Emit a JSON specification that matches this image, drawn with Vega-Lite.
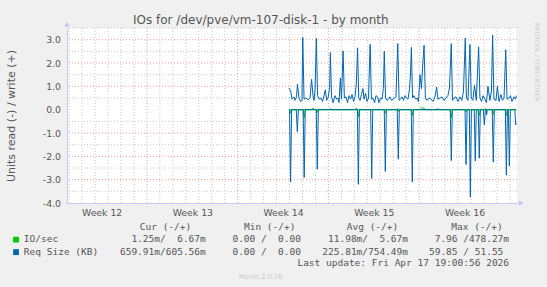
{
  "$schema": "https://vega.github.io/schema/vega-lite/v6.json",
  "width": 450,
  "height": 175,
  "autosize": "none",
  "padding": {"left": 67, "top": 28, "right": 30, "bottom": 84},
  "background": "#f0f0f0",
  "config": {"view": {"fill": "white", "stroke": null}, "font": "DejaVu Sans",
    "axisY": {"ticks": false, "tickSize": 0, "grid": false, "domainColor": "#c8c8f0", "labelColor": "#555555", "labelFont": "DejaVu Sans", "labelFontSize": 9.3, "labelPadding": 6.5, "labelBaseline": "middle", "labelFlush": false, "labelOverlap": false, "titleFont": "DejaVu Sans", "titleFontSize": 11, "titleFontWeight": "normal", "titleColor": "#555555", "titleX": -56, "titleY": 87.5, "titleAngle": -90, "titleAlign": "center", "titleBaseline": "middle"},
    "axisX": {"ticks": false, "tickSize": 0, "grid": false, "domainColor": "#c8c8f0", "labelColor": "#555555", "labelFont": "DejaVu Sans", "labelFontSize": 9.3, "labelPadding": 9, "labelBaseline": "middle", "labelFlush": false, "labelOverlap": false}
  },
  "datasets": {
    "req": [
      {"k":"w","t":17.96,"v":0.93},{"k":"w","t":18.11,"v":0.75},{"k":"w","t":18.19,"v":0.45},{"k":"w","t":18.34,"v":0.55},{"k":"w","t":18.42,"v":0.40},{"k":"w","t":18.54,"v":0.55},{"k":"w","t":18.61,"v":1.1},{"k":"w","t":18.73,"v":0.5},{"k":"w","t":18.85,"v":0.35},{"k":"w","t":18.96,"v":0.4},{"k":"w","t":19.02,"v":3.1},{"k":"w","t":19.12,"v":0.45},{"k":"w","t":19.27,"v":0.5},{"k":"w","t":19.43,"v":0.42},{"k":"w","t":19.58,"v":0.5},{"k":"w","t":19.70,"v":1.3},{"k":"w","t":19.81,"v":0.6},{"k":"w","t":19.89,"v":0.4},{"k":"w","t":19.97,"v":0.9},{"k":"w","t":20.07,"v":3.05},{"k":"w","t":20.16,"v":0.6},{"k":"w","t":20.28,"v":0.45},{"k":"w","t":20.43,"v":0.5},{"k":"w","t":20.55,"v":0.35},{"k":"w","t":20.66,"v":0.6},{"k":"w","t":20.76,"v":0.85},{"k":"w","t":20.86,"v":0.4},{"k":"w","t":20.97,"v":0.5},{"k":"w","t":21.09,"v":0.9},{"k":"w","t":21.15,"v":2.45},{"k":"w","t":21.24,"v":0.55},{"k":"w","t":21.36,"v":0.3},{"k":"w","t":21.51,"v":0.6},{"k":"w","t":21.63,"v":0.45},{"k":"w","t":21.74,"v":0.5},{"k":"w","t":21.82,"v":0.3},{"k":"w","t":21.92,"v":1.36},{"k":"w","t":22.01,"v":0.45},{"k":"w","t":22.13,"v":2.52},{"k":"w","t":22.23,"v":0.5},{"k":"w","t":22.36,"v":0.55},{"k":"w","t":22.47,"v":0.3},{"k":"w","t":22.59,"v":0.6},{"k":"w","t":22.71,"v":0.45},{"k":"w","t":22.82,"v":0.65},{"k":"w","t":22.94,"v":0.35},{"k":"w","t":23.05,"v":0.55},{"k":"w","t":23.15,"v":1.1},{"k":"w","t":23.25,"v":2.65},{"k":"w","t":23.34,"v":0.5},{"k":"w","t":23.44,"v":0.4},{"k":"w","t":23.55,"v":0.65},{"k":"w","t":23.67,"v":0.9},{"k":"w","t":23.75,"v":0.45},{"k":"w","t":23.86,"v":0.7},{"k":"w","t":23.98,"v":0.35},{"k":"w","t":24.09,"v":0.5},{"k":"w","t":24.22,"v":2.8},{"k":"w","t":24.32,"v":0.45},{"k":"w","t":24.44,"v":0.5},{"k":"w","t":24.56,"v":0.3},{"k":"w","t":24.67,"v":0.6},{"k":"w","t":24.79,"v":0.55},{"k":"w","t":24.90,"v":0.3},{"k":"w","t":25.02,"v":0.5},{"k":"w","t":25.14,"v":0.45},{"k":"w","t":25.24,"v":0.9},{"k":"w","t":25.31,"v":2.5},{"k":"w","t":25.41,"v":0.5},{"k":"w","t":25.52,"v":0.4},{"k":"w","t":25.64,"v":0.45},{"k":"w","t":25.75,"v":0.55},{"k":"w","t":25.87,"v":0.4},{"k":"w","t":25.98,"v":0.45},{"k":"w","t":26.10,"v":0.5},{"k":"w","t":26.21,"v":0.55},{"k":"w","t":26.35,"v":2.83},{"k":"w","t":26.45,"v":0.4},{"k":"w","t":26.56,"v":0.45},{"k":"w","t":26.68,"v":0.55},{"k":"w","t":26.79,"v":0.4},{"k":"w","t":26.91,"v":0.6},{"k":"w","t":27.03,"v":0.5},{"k":"w","t":27.14,"v":0.45},{"k":"w","t":27.26,"v":0.9},{"k":"w","t":27.32,"v":1.4},{"k":"w","t":27.40,"v":2.67},{"k":"w","t":27.49,"v":0.5},{"k":"w","t":27.60,"v":0.6},{"k":"w","t":27.72,"v":0.45},{"k":"w","t":27.84,"v":0.5},{"k":"w","t":27.95,"v":0.35},{"k":"w","t":28.07,"v":1.5},{"k":"w","t":28.18,"v":0.9},{"k":"w","t":28.28,"v":1.97},{"k":"w","t":28.38,"v":2.76},{"k":"w","t":28.48,"v":0.5},{"k":"w","t":28.61,"v":0.4},{"k":"w","t":28.76,"v":0.5},{"k":"w","t":28.92,"v":0.45},{"k":"w","t":29.07,"v":0.35},{"k":"w","t":29.22,"v":0.55},{"k":"w","t":29.35,"v":0.97},{"k":"w","t":29.45,"v":0.45},{"k":"w","t":29.61,"v":0.5},{"k":"w","t":29.76,"v":0.55},{"k":"w","t":29.92,"v":0.4},{"k":"w","t":30.07,"v":0.5},{"k":"w","t":30.22,"v":0.6},{"k":"w","t":30.34,"v":0.93},{"k":"w","t":30.48,"v":2.83},{"k":"w","t":30.57,"v":0.4},{"k":"w","t":30.69,"v":0.5},{"k":"w","t":30.84,"v":0.55},{"k":"w","t":31.00,"v":0.35},{"k":"w","t":31.15,"v":0.55},{"k":"w","t":31.30,"v":0.4},{"k":"w","t":31.42,"v":0.8},{"k":"w","t":31.56,"v":3.07},{"k":"w","t":31.65,"v":0.5},{"k":"w","t":31.77,"v":0.4},{"k":"w","t":31.92,"v":2.79},{"k":"w","t":32.02,"v":0.5},{"k":"w","t":32.15,"v":0.4},{"k":"w","t":32.27,"v":1.05},{"k":"w","t":32.41,"v":0.4},{"k":"w","t":32.59,"v":2.69},{"k":"w","t":32.69,"v":0.5},{"k":"w","t":32.81,"v":0.35},{"k":"w","t":32.93,"v":0.6},{"k":"w","t":33.08,"v":0.45},{"k":"w","t":33.19,"v":0.3},{"k":"w","t":33.31,"v":1.0},{"k":"w","t":33.46,"v":0.4},{"k":"w","t":33.58,"v":0.8},{"k":"w","t":33.67,"v":3.19},{"k":"w","t":33.77,"v":0.45},{"k":"w","t":33.93,"v":0.4},{"k":"w","t":34.04,"v":1.0},{"k":"w","t":34.16,"v":0.35},{"k":"w","t":34.31,"v":0.65},{"k":"w","t":34.43,"v":0.4},{"k":"w","t":34.55,"v":0.5},{"k":"w","t":34.68,"v":2.57},{"k":"w","t":34.78,"v":0.45},{"k":"w","t":34.93,"v":0.5},{"k":"w","t":35.05,"v":0.6},{"k":"w","t":35.16,"v":0.35},{"k":"w","t":35.32,"v":0.55},{"k":"w","t":35.43,"v":0.45},{"k":"w","t":35.51,"v":0.6},
      {"k":"r","t":17.96,"v":0},{"k":"r","t":18.0,"v":0},{"k":"r","t":18.08,"v":-3.1},{"k":"r","t":18.16,"v":0},{"k":"r","t":18.52,"v":0},{"k":"r","t":18.60,"v":-0.95},{"k":"r","t":18.68,"v":0},{"k":"r","t":19.05,"v":0},{"k":"r","t":19.13,"v":-2.91},{"k":"r","t":19.21,"v":0},{"k":"r","t":20.06,"v":0},{"k":"r","t":20.14,"v":-2.55},{"k":"r","t":20.22,"v":0},{"k":"r","t":23.23,"v":0},{"k":"r","t":23.31,"v":-3.2},{"k":"r","t":23.39,"v":0},{"k":"r","t":24.26,"v":0},{"k":"r","t":24.34,"v":-2.95},{"k":"r","t":24.42,"v":0},{"k":"r","t":25.31,"v":0},{"k":"r","t":25.39,"v":-2.65},{"k":"r","t":25.47,"v":0},{"k":"r","t":26.31,"v":0},{"k":"r","t":26.39,"v":-2.12},{"k":"r","t":26.47,"v":0},{"k":"r","t":27.39,"v":0},{"k":"r","t":27.47,"v":-3.1},{"k":"r","t":27.55,"v":0},{"k":"r","t":30.40,"v":0},{"k":"r","t":30.48,"v":-2.18},{"k":"r","t":30.56,"v":0},{"k":"r","t":31.54,"v":0},{"k":"r","t":31.62,"v":-2.35},{"k":"r","t":31.70,"v":0},{"k":"r","t":31.87,"v":0},{"k":"r","t":31.95,"v":-3.75},{"k":"r","t":32.03,"v":0},{"k":"r","t":32.25,"v":0},{"k":"r","t":32.33,"v":-2.2},{"k":"r","t":32.41,"v":0},{"k":"r","t":32.56,"v":0},{"k":"r","t":32.64,"v":-2.08},{"k":"r","t":32.72,"v":0},{"k":"r","t":32.95,"v":0},{"k":"r","t":33.03,"v":-0.65},{"k":"r","t":33.11,"v":0},{"k":"r","t":33.17,"v":0},{"k":"r","t":33.21,"v":-0.22},{"k":"r","t":33.25,"v":0},{"k":"r","t":33.64,"v":0},{"k":"r","t":33.72,"v":-2.25},{"k":"r","t":33.80,"v":0},{"k":"r","t":34.65,"v":0},{"k":"r","t":34.73,"v":-2.81},{"k":"r","t":34.81,"v":0},{"k":"r","t":34.88,"v":0},{"k":"r","t":34.96,"v":-2.42},{"k":"r","t":35.04,"v":0},{"k":"r","t":35.38,"v":0},{"k":"r","t":35.45,"v":-0.65},{"k":"r","t":35.51,"v":-0.6}
    ],
    "io": [
      {"k":"w","t":17.96,"v":0},{"k":"w","t":19.7,"v":0},{"k":"w","t":19.8,"v":0.06},{"k":"w","t":19.95,"v":0},{"k":"w","t":21.1,"v":0},{"k":"w","t":21.15,"v":0.05},{"k":"w","t":21.2,"v":0},{"k":"w","t":23.05,"v":0},{"k":"w","t":23.15,"v":0.06},{"k":"w","t":23.3,"v":0},{"k":"w","t":26.3,"v":0},{"k":"w","t":26.35,"v":0.05},{"k":"w","t":26.4,"v":0},{"k":"w","t":28.05,"v":0},{"k":"w","t":28.2,"v":0.08},{"k":"w","t":28.4,"v":0.06},{"k":"w","t":28.5,"v":0},{"k":"w","t":29.4,"v":0},{"k":"w","t":29.45,"v":0.05},{"k":"w","t":29.5,"v":0},{"k":"w","t":33.05,"v":0},{"k":"w","t":33.1,"v":0.05},{"k":"w","t":33.15,"v":0},{"k":"w","t":35.51,"v":0},
      {"k":"r","t":17.96,"v":0},{"k":"r","t":18.0,"v":0},{"k":"r","t":18.08,"v":-0.15},{"k":"r","t":18.16,"v":0},{"k":"r","t":19.05,"v":0},{"k":"r","t":19.13,"v":-0.35},{"k":"r","t":19.21,"v":0},{"k":"r","t":20.06,"v":0},{"k":"r","t":20.14,"v":-0.12},{"k":"r","t":20.22,"v":0},{"k":"r","t":23.23,"v":0},{"k":"r","t":23.31,"v":-0.3},{"k":"r","t":23.39,"v":0},{"k":"r","t":25.31,"v":0},{"k":"r","t":25.39,"v":-0.15},{"k":"r","t":25.47,"v":0},{"k":"r","t":26.31,"v":0},{"k":"r","t":26.39,"v":-0.08},{"k":"r","t":26.47,"v":0},{"k":"r","t":27.39,"v":0},{"k":"r","t":27.47,"v":-0.25},{"k":"r","t":27.55,"v":0},{"k":"r","t":30.40,"v":0},{"k":"r","t":30.48,"v":-0.35},{"k":"r","t":30.56,"v":0},{"k":"r","t":31.54,"v":0},{"k":"r","t":31.62,"v":-0.1},{"k":"r","t":31.70,"v":0},{"k":"r","t":32.56,"v":0},{"k":"r","t":32.64,"v":-0.25},{"k":"r","t":32.72,"v":0},{"k":"r","t":33.64,"v":0},{"k":"r","t":33.72,"v":-0.2},{"k":"r","t":33.80,"v":0},{"k":"r","t":34.65,"v":0},{"k":"r","t":34.73,"v":-0.25},{"k":"r","t":34.81,"v":0},{"k":"r","t":35.51,"v":0}
    ],
    "legend": [
      {"a":"l","c":-0.2,"ln":1,"txt":"IO/sec"},
      {"a":"l","c":-0.2,"ln":2,"txt":"Req Size (KB)"},
      {"a":"c","c":24.56,"ln":0,"txt":"Cur (-/+)"},
      {"a":"c","c":42.78,"ln":0,"txt":"Min (-/+)"},
      {"a":"c","c":60.75,"ln":0,"txt":"Avg (-/+)"},
      {"a":"c","c":79.02,"ln":0,"txt":"Max (-/+)"},
      {"a":"r","c":24.6,"ln":1,"txt":"1.25m/"},
      {"a":"r","c":31.6,"ln":1,"txt":"6.67m"},
      {"a":"r","c":42.26,"ln":1,"txt":"0.00 /"},
      {"a":"r","c":48.25,"ln":1,"txt":"0.00"},
      {"a":"r","c":59.97,"ln":1,"txt":"11.98m/"},
      {"a":"r","c":66.96,"ln":1,"txt":"5.67m"},
      {"a":"r","c":77.62,"ln":1,"txt":"7.96 /"},
      {"a":"r","c":84.62,"ln":1,"txt":"478.27m"},
      {"a":"r","c":24.6,"ln":2,"txt":"659.91m/"},
      {"a":"r","c":31.6,"ln":2,"txt":"605.56m"},
      {"a":"r","c":42.26,"ln":2,"txt":"0.00 /"},
      {"a":"r","c":48.25,"ln":2,"txt":"0.00"},
      {"a":"r","c":59.97,"ln":2,"txt":"225.81m/"},
      {"a":"r","c":66.96,"ln":2,"txt":"754.49m"},
      {"a":"r","c":77.62,"ln":2,"txt":"59.85 /"},
      {"a":"r","c":83.62,"ln":2,"txt":"51.55"},
      {"a":"r","c":84.62,"ln":2.88,"txt":"Last update: Fri Apr 17 19:00:56 2026"}
    ]
  },
  "layer": [
    {
      "layer": [
        {
          "data": {"values": [{"t":1},{"t":2},{"t":3},{"t":4},{"t":5},{"t":6},{"t":8},{"t":9},{"t":10},{"t":11},{"t":12},{"t":13},{"t":15},{"t":16},{"t":17},{"t":18},{"t":19},{"t":20},{"t":22},{"t":23},{"t":24},{"t":25},{"t":26},{"t":27},{"t":29},{"t":30},{"t":31},{"t":32},{"t":33},{"t":34},{"t":35}]},
          "mark": {"type": "rule", "color": "#c8c8c8", "strokeDash": [1, 2], "strokeWidth": 1},
          "encoding": {
            "x": {"field": "t", "type": "quantitative", "scale": {"domain": [0.83, 35.55], "nice": false, "zero": false},
              "axis": {"values": [3.5, 10.5, 17.5, 24.5, 31.5], "labelExpr": "'Week ' + (12 + round((datum.value - 3.5) / 7))", "title": null}}
          }
        },
        {
          "data": {"values": [{"t":7},{"t":14},{"t":21},{"t":28}]},
          "mark": {"type": "rule", "color": "#eb9a9a", "strokeDash": [1, 2], "strokeWidth": 1},
          "encoding": {"x": {"field": "t", "type": "quantitative", "axis": {"values": [3.5, 10.5, 17.5, 24.5, 31.5], "labelExpr": "'Week ' + (12 + round((datum.value - 3.5) / 7))", "title": null}}}
        },
        {
          "data": {"values": [{"v":-3.5},{"v":-2.5},{"v":-1.5},{"v":-0.5},{"v":0.5},{"v":1.5},{"v":2.5},{"v":3.5}]},
          "mark": {"type": "rule", "color": "#c8c8c8", "strokeDash": [1, 2], "strokeWidth": 1},
          "encoding": {
            "y": {"field": "v", "type": "quantitative", "scale": {"domain": [-4, 3.5], "nice": false, "zero": false},
              "axis": {"values": [-4, -3, -2, -1, 0, 1, 2, 3], "labelExpr": "(datum.value < 0 ? '-' : '') + format(abs(datum.value), '.1f')", "title": "Units read (-) / write (+)"}}
          }
        },
        {
          "data": {"values": [{"v":-3},{"v":-2},{"v":-1},{"v":1},{"v":2},{"v":3}]},
          "mark": {"type": "rule", "color": "#eb9a9a", "strokeDash": [1, 2], "strokeWidth": 1},
          "encoding": {"y": {"field": "v", "type": "quantitative", "axis": {"values": [-4, -3, -2, -1, 0, 1, 2, 3], "labelExpr": "(datum.value < 0 ? '-' : '') + format(abs(datum.value), '.1f')", "title": "Units read (-) / write (+)"}}}
        },
        {
          "data": {"name": "io"},
          "mark": {"type": "line", "color": "#00cc00", "strokeWidth": 1},
          "encoding": {
            "x": {"field": "t", "type": "quantitative", "axis": {"values": [3.5, 10.5, 17.5, 24.5, 31.5], "labelExpr": "'Week ' + (12 + round((datum.value - 3.5) / 7))", "title": null}},
            "y": {"field": "v", "type": "quantitative", "axis": {"values": [-4, -3, -2, -1, 0, 1, 2, 3], "labelExpr": "(datum.value < 0 ? '-' : '') + format(abs(datum.value), '.1f')", "title": "Units read (-) / write (+)"}},
            "detail": {"field": "k"}
          }
        },
        {
          "data": {"name": "req"},
          "mark": {"type": "line", "color": "#0066b3", "strokeWidth": 1},
          "encoding": {
            "x": {"field": "t", "type": "quantitative", "axis": {"values": [3.5, 10.5, 17.5, 24.5, 31.5], "labelExpr": "'Week ' + (12 + round((datum.value - 3.5) / 7))", "title": null}},
            "y": {"field": "v", "type": "quantitative", "axis": {"values": [-4, -3, -2, -1, 0, 1, 2, 3], "labelExpr": "(datum.value < 0 ? '-' : '') + format(abs(datum.value), '.1f')", "title": "Units read (-) / write (+)"}},
            "detail": {"field": "k"}
          }
        },
        {
          "mark": {"type": "rule", "color": "#000000", "strokeWidth": 1},
          "encoding": {"y": {"datum": 0, "type": "quantitative", "axis": {"values": [-4, -3, -2, -1, 0, 1, 2, 3], "labelExpr": "(datum.value < 0 ? '-' : '') + format(abs(datum.value), '.1f')", "title": "Units read (-) / write (+)"}}}
        },
        {
          "data": {"values": [{"t": 0.83, "v": 3.66, "s": "triangle-up"}, {"t": 35.86, "v": -4, "s": "triangle-right"}]},
          "mark": {"type": "point", "filled": true, "color": "#c3c3f5", "opacity": 1, "size": 28},
          "encoding": {
            "x": {"field": "t", "type": "quantitative", "axis": {"values": [3.5, 10.5, 17.5, 24.5, 31.5], "labelExpr": "'Week ' + (12 + round((datum.value - 3.5) / 7))", "title": null}},
            "y": {"field": "v", "type": "quantitative", "axis": {"values": [-4, -3, -2, -1, 0, 1, 2, 3], "labelExpr": "(datum.value < 0 ? '-' : '') + format(abs(datum.value), '.1f')", "title": "Units read (-) / write (+)"}},
            "shape": {"field": "s", "type": "nominal", "scale": {"domain": ["triangle-up", "triangle-right"], "range": ["triangle-up", "triangle-right"]}, "legend": null}
          }
        }
      ]
    },
    {
      "layer": [
        {
          "data": {"name": "legend"},
          "transform": [{"filter": "datum.a == 'l'"}],
          "mark": {"type": "text", "align": "left", "baseline": "middle", "font": "DejaVu Sans Mono", "fontSize": 9.5, "color": "#555555"},
          "encoding": {
            "x": {"field": "c", "type": "quantitative", "scale": {"domain": [7.34, 86.01], "nice": false, "zero": false}, "axis": null},
            "y": {"field": "ln", "type": "quantitative", "scale": {"domain": [-15.9, -1.9], "nice": false, "zero": false, "reverse": true}, "axis": null},
            "text": {"field": "txt"}
          }
        },
        {
          "data": {"name": "legend"},
          "transform": [{"filter": "datum.a == 'r'"}],
          "mark": {"type": "text", "align": "right", "baseline": "middle", "font": "DejaVu Sans Mono", "fontSize": 9.5, "color": "#555555"},
          "encoding": {
            "x": {"field": "c", "type": "quantitative", "axis": null},
            "y": {"field": "ln", "type": "quantitative", "axis": null},
            "text": {"field": "txt"}
          }
        },
        {
          "data": {"name": "legend"},
          "transform": [{"filter": "datum.a == 'c'"}],
          "mark": {"type": "text", "align": "center", "baseline": "middle", "font": "DejaVu Sans Mono", "fontSize": 9.5, "color": "#555555"},
          "encoding": {
            "x": {"field": "c", "type": "quantitative", "axis": null},
            "y": {"field": "ln", "type": "quantitative", "axis": null},
            "text": {"field": "txt"}
          }
        },
        {
          "data": {"values": [{"c": -1.57, "ln": 1.03, "s": "IO/sec"}, {"c": -1.57, "ln": 2.03, "s": "Req Size (KB)"}]},
          "mark": {"type": "square", "filled": true, "opacity": 1, "size": 34},
          "encoding": {
            "x": {"field": "c", "type": "quantitative", "axis": null},
            "y": {"field": "ln", "type": "quantitative", "axis": null},
            "color": {"field": "s", "type": "nominal", "scale": {"domain": ["IO/sec", "Req Size (KB)"], "range": ["#00cc00", "#0066b3"]}, "legend": null}
          }
        },
        {
          "data": {"values": [{"c": 41.22, "ln": -16.55, "txt": "IOs for /dev/pve/vm-107-disk-1 - by month"}]},
          "mark": {"type": "text", "align": "center", "baseline": "middle", "font": "DejaVu Sans", "fontSize": 12, "color": "#555555"},
          "encoding": {
            "x": {"field": "c", "type": "quantitative", "axis": null},
            "y": {"field": "ln", "type": "quantitative", "axis": null},
            "text": {"field": "txt"}
          }
        },
        {
          "data": {"values": [{"c": 41.2, "ln": 4.0, "txt": "Munin 2.0.76"}]},
          "mark": {"type": "text", "align": "center", "baseline": "middle", "font": "DejaVu Sans", "fontSize": 6.7, "color": "#c8c8c8"},
          "encoding": {
            "x": {"field": "c", "type": "quantitative", "axis": null},
            "y": {"field": "ln", "type": "quantitative", "axis": null},
            "text": {"field": "txt"}
          }
        },
        {
          "data": {"values": [{"c": 89.46, "ln": -13.16, "txt": "RRDTOOL / TOBI OETIKER"}]},
          "mark": {"type": "text", "align": "center", "baseline": "middle", "angle": 90, "font": "DejaVu Sans", "fontSize": 6.1, "color": "#cfcfcf"},
          "encoding": {
            "x": {"field": "c", "type": "quantitative", "axis": null},
            "y": {"field": "ln", "type": "quantitative", "axis": null},
            "text": {"field": "txt"}
          }
        }
      ]
    }
  ],
  "resolve": {"scale": {"x": "independent", "y": "independent", "color": "independent", "shape": "independent"}}
}
